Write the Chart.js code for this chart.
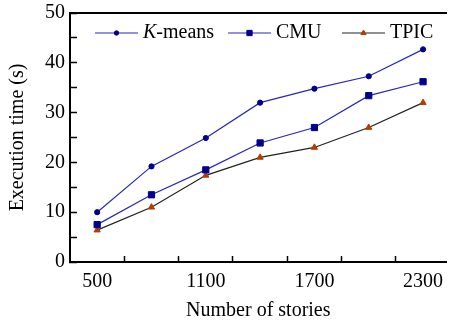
<!DOCTYPE html>
<html>
<head>
<meta charset="utf-8">
<script src="https://cdn.jsdelivr.net/npm/chart.js@4"></script>
<style>
  html, body { margin: 0; padding: 0; background: #ffffff; }
  #wrap { position: relative; width: 452px; height: 320px; }
</style>
</head>
<body>
<div id="wrap"><canvas id="c" width="452" height="320"></canvas></div>
<script>
// ---- data ----
const stories = [500, 800, 1100, 1400, 1700, 2000, 2300];
const kmeans = [10.0, 19.2, 24.9, 32.0, 34.8, 37.3, 42.7];
const cmu    = [7.5, 13.5, 18.5, 23.9, 27.0, 33.4, 36.2];
const tpic   = [6.4, 11.0, 17.4, 21.0, 23.0, 27.0, 32.0];
const xLabelTicks = [500, 1100, 1700, 2300];
const xMarkTicks  = [650, 950, 1250, 1550, 1850, 2150];
const seriesNames = ['K-means', 'CMU', 'TPIC'];

const FONT = "'Liberation Serif', 'Times New Roman', serif";
const toXY = (arr) => arr.map((v, i) => ({ x: stories[i], y: v }));

const legendPlugin = {
  id: 'customLegend',
  afterDraw(chart) {
    const ctx = chart.ctx;
    const area = chart.chartArea;
    const y = area.top + 20;
    const starts = [area.left + 25, area.left + 158, area.left + 272];
    const lineLen = 43;
    chart.data.datasets.forEach((ds, i) => {
      const x0 = starts[i];
      ctx.save();
      ctx.strokeStyle = ds.borderColor;
      ctx.lineWidth = ds.borderWidth;
      ctx.beginPath();
      ctx.moveTo(x0, y);
      ctx.lineTo(x0 + lineLen, y);
      ctx.stroke();
      ctx.fillStyle = ds.pointBackgroundColor;
      ctx.strokeStyle = ds.pointBorderColor;
      ctx.lineWidth = 1;
      Chart.helpers.drawPoint(ctx, { pointStyle: ds.pointStyle, radius: ds.pointRadius * 0.85, borderWidth: 1, rotation: 0 }, x0 + lineLen / 2, y);
      ctx.fillStyle = '#000';
      ctx.textBaseline = 'middle';
      ctx.textAlign = 'left';
      let tx = x0 + lineLen + 5;
      if (ds.label === 'K-means') {
        ctx.font = 'italic 20px ' + FONT;
        ctx.fillText('K', tx, y);
        tx += ctx.measureText('K').width;
        ctx.font = '20px ' + FONT;
        ctx.fillText('-means', tx, y);
      } else {
        ctx.font = '20px ' + FONT;
        ctx.fillText(ds.label, tx, y);
      }
      ctx.restore();
    });
  }
};

const noPad = (s) => { s.paddingTop = 0; s.paddingBottom = 0; s.paddingLeft = 0; s.paddingRight = 0; };

new Chart(document.getElementById('c'), {
  type: 'line',
  data: {
    datasets: [
      { label: seriesNames[0], data: toXY(kmeans), borderColor: '#2828bc', borderWidth: 1.2,
        pointStyle: 'circle', pointRadius: 2.6, pointBackgroundColor: '#00008c', pointBorderColor: '#00008c', pointBorderWidth: 1 },
      { label: seriesNames[1], data: toXY(cmu), borderColor: '#2828bc', borderWidth: 1.2,
        pointStyle: 'rect', pointRadius: 4.4, pointBackgroundColor: '#00008c', pointBorderColor: '#00008c', pointBorderWidth: 1 },
      { label: seriesNames[2], data: toXY(tpic), borderColor: '#222222', borderWidth: 1.2,
        pointStyle: 'triangle', pointRadius: 3.6, pointBackgroundColor: '#b33c00', pointBorderColor: '#b33c00', pointBorderWidth: 1 }
    ]
  },
  options: {
    responsive: false,
    animation: false,
    layout: { padding: { top: 13, right: 0, left: 0, bottom: 0 } },
    plugins: { legend: { display: false }, tooltip: { enabled: false } },
    scales: {
      x: {
        type: 'linear', position: 'bottom', min: 350, max: 2430,
        afterBuildTicks: (s) => {
          const t = [];
          for (let v = 500; v <= 2300; v += 150) t.push({ value: v });
          s.ticks = t;
        },
        afterFit: (s) => { s.height = 58; noPad(s); },
        ticks: {
          autoSkip: false, maxRotation: 0, padding: 14,
          color: '#000', font: { family: FONT, size: 20 },
          callback: (v) => xLabelTicks.includes(v) ? String(v) : ''
        },
        grid: {
          display: true, drawOnChartArea: false, drawTicks: true, tickLength: -6, tickWidth: 1.5,
          tickColor: (ctx) => (ctx.tick && xMarkTicks.includes(ctx.tick.value)) ? '#000' : 'rgba(0,0,0,0)'
        },
        border: { display: true, color: '#000', width: 2 },
        title: { display: true, text: 'Number of stories', color: '#000', font: { family: FONT, size: 20 }, padding: { top: 0, bottom: -3 } }
      },
      x2: {
        type: 'linear', position: 'top', min: 350, max: 2430, display: true,
        afterFit: (s) => { s.height = 0; noPad(s); },
        ticks: { display: false },
        grid: { display: false, drawTicks: false },
        border: { display: true, color: '#000', width: 2 }
      },
      y: {
        type: 'linear', min: 0, max: 50,
        afterFit: (s) => { s.width = 70; noPad(s); },
        ticks: {
          stepSize: 5, autoSkip: false, padding: 12,
          color: '#000', font: { family: FONT, size: 20 },
          callback: (v) => v % 10 === 0 ? String(v) : ''
        },
        grid: { display: true, drawOnChartArea: false, drawTicks: true, tickLength: -7, tickWidth: 1.5, tickColor: '#000' },
        border: { display: true, color: '#000', width: 2 },
        title: { display: true, text: 'Execution time (s)', color: '#000', font: { family: FONT, size: 20 }, padding: { top: 6, bottom: 0 } }
      }
    }
  },
  plugins: [legendPlugin]
});
</script>
</body>
</html>
